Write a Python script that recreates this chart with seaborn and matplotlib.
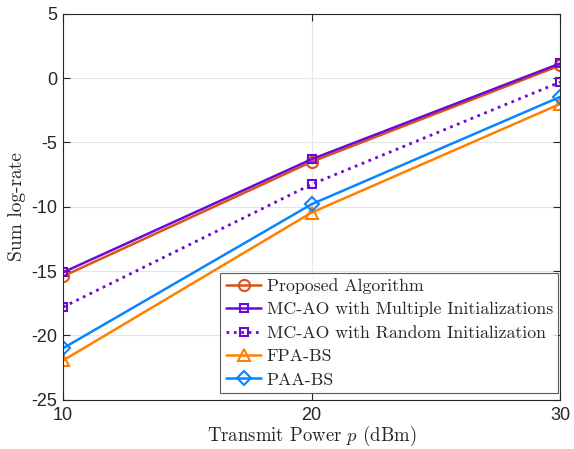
import pandas as pd
import matplotlib.pyplot as plt
import seaborn as sns

# data
power = [10, 20, 30]
proposed = [-15.4, -6.5, 1.0]
mcao_multi = [-15.1, -6.3, 1.15]
mcao_rand = [-17.8, -8.25, -0.3]
fpa_bs = [-21.95, -10.45, -2.0]
paa_bs = [-21.0, -9.8, -1.45]

labels = ['Proposed Algorithm', 'MC-AO with Multiple Initializations',
          'MC-AO with Random Initialization', 'FPA-BS', 'PAA-BS']
series = [proposed, mcao_multi, mcao_rand, fpa_bs, paa_bs]
colors = ['#D95319', '#6B0AD6', '#6B0AD6', '#FF8000', '#0A84FF']
markers = ['o', 's', 's', '^', 'D']
styles = ['-', '-', ':', '-', '-']
msizes = [8, 6, 6, 9, 7]

sns.set_style('ticks')
plt.rcParams['mathtext.fontset'] = 'cm'
plt.rcParams['font.family'] = ['Liberation Sans', 'DejaVu Sans']
plt.rcParams['axes.unicode_minus'] = False

fig = plt.figure(figsize=(5.74, 4.49), dpi=100)
ax = fig.add_axes([0.110, 0.110, 0.866, 0.859])

for lab, vals, c, m, ls, ms in zip(labels, series, colors, markers, styles, msizes):
    df = pd.DataFrame({'p': power, 'r': vals})
    sns.lineplot(data=df, x='p', y='r', ax=ax, color=c, marker=m, linestyle=ls,
                 linewidth=1.8 if ls == '-' else 2.0, markersize=ms,
                 markerfacecolor='none', markeredgecolor=c, markeredgewidth=1.5,
                 label=lab)

ax.set_xlim(10, 30)
ax.set_ylim(-25, 5)
ax.set_xticks([10, 20, 30])
ax.set_yticks(range(-25, 6, 5))
ax.grid(True, color='#E6E6E6', linewidth=0.8)
ax.tick_params(direction='in', labelsize=13, length=5, top=True, right=True)
ax.tick_params(axis='x', pad=5)
ax.tick_params(axis='y', pad=4)
for s in ax.spines.values():
    s.set_linewidth(0.8)
ax.set_xlabel(r'Transmit Power $p$ (dBm)', fontsize=13.5, family='cmr10', labelpad=0)
ax.set_ylabel('Sum log-rate', fontsize=14, family='cmr10', labelpad=4)

leg = ax.legend(loc='lower right', bbox_to_anchor=(0.996, 0.017),
                prop={'family': 'cmr10', 'size': 12.8},
                frameon=True, fancybox=False, edgecolor='#333333',
                borderpad=0.3, labelspacing=0.45, handlelength=2.0, handletextpad=0.3,
                borderaxespad=0.0)
leg.get_frame().set_linewidth(0.8)

fig.savefig('out.png', dpi=100)
